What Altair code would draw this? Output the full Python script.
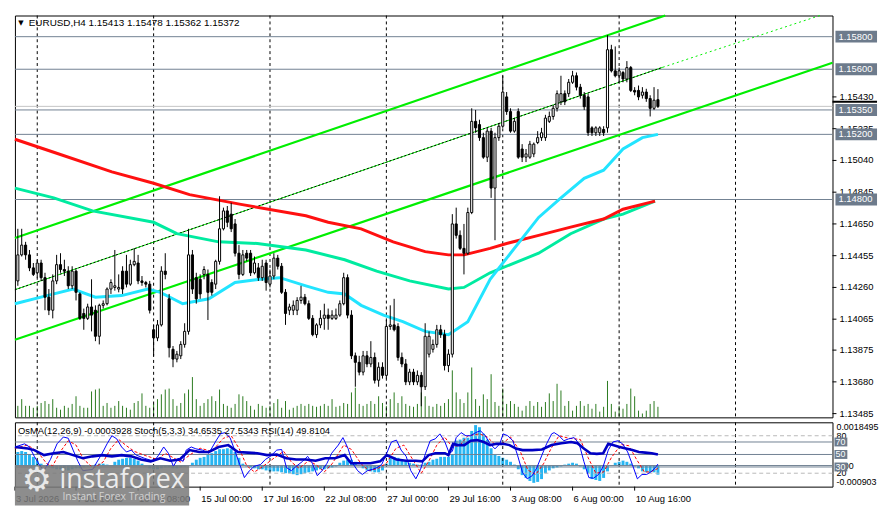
import altair as alt
import pandas as pd

FONT = "Liberation Sans"
W, H1, H2 = 826, 406, 65

TITLE = "EURUSD,H4  1.15413 1.15478 1.15362 1.15372"
IND_TITLE = "OsMA(12,26,9) -0.0003928  Stoch(5,3,3) 34.6535 27.5343  RSI(14) 49.8104"

# ---------------- candles (H4) ----------------
OPEN = [1.1430, 1.1446, 1.1452, 1.1446, 1.1438, 1.1435, 1.1441, 1.1432, 1.1420, 1.1412,
        1.1430, 1.1440, 1.1437, 1.1436, 1.1427, 1.1436, 1.1422, 1.1410, 1.1407, 1.1414,
        1.1412, 1.1396, 1.1415, 1.1416, 1.1425, 1.1426, 1.1425, 1.1436, 1.1436, 1.1428,
        1.1440, 1.1441, 1.1430, 1.1429, 1.1428, 1.1400, 1.1395, 1.1403, 1.1436, 1.1419,
        1.1388, 1.1382, 1.1384, 1.1391, 1.1399, 1.1446, 1.1432, 1.1431, 1.1434, 1.1434,
        1.1429, 1.1428, 1.1442, 1.1462, 1.1473, 1.1471, 1.1465, 1.1447, 1.1434, 1.1447,
        1.1447, 1.1435, 1.1438, 1.1432, 1.1441, 1.1428, 1.1433, 1.1444, 1.1439, 1.1423,
        1.1412, 1.1412, 1.1412, 1.1418, 1.1420, 1.1416, 1.1407, 1.1397, 1.1403, 1.1407,
        1.1409, 1.1407, 1.1407, 1.1409, 1.1416, 1.1432, 1.1409, 1.1384, 1.1380, 1.1374,
        1.1384, 1.1379, 1.1383, 1.1369, 1.1377, 1.1372, 1.1402, 1.1403, 1.1402, 1.1383,
        1.1379, 1.1368, 1.1374, 1.1368, 1.1372, 1.1365, 1.1385, 1.1388, 1.1391, 1.1400,
        1.1397, 1.1378, 1.1385, 1.1465, 1.1458, 1.1450, 1.1447, 1.1472, 1.1528, 1.1526,
        1.1518, 1.1506, 1.1522, 1.1487, 1.1518, 1.1525, 1.1543, 1.1534, 1.1522, 1.1534,
        1.1511, 1.1506, 1.1506, 1.1508, 1.1515, 1.1518, 1.1518, 1.1528, 1.1531, 1.1536,
        1.1540, 1.1545, 1.1545, 1.1552, 1.1556, 1.1549, 1.1544, 1.1543, 1.1524, 1.1521,
        1.1521, 1.1523, 1.1524, 1.1572, 1.1559, 1.1556, 1.1558, 1.1554, 1.1561, 1.1547,
        1.1547, 1.1544, 1.1546, 1.1542, 1.1536, 1.15413]
HIGH = [1.1462, 1.1462, 1.1454, 1.1449, 1.1441, 1.1443, 1.1443, 1.1435, 1.1425, 1.1434,
        1.1446, 1.1447, 1.1443, 1.1439, 1.1439, 1.1437, 1.1423, 1.1413, 1.1416, 1.1431,
        1.1415, 1.1416, 1.1418, 1.1426, 1.1431, 1.1449, 1.1434, 1.1439, 1.1446, 1.1443,
        1.1450, 1.1446, 1.1433, 1.1430, 1.1430, 1.1403, 1.1406, 1.1439, 1.1447, 1.1422,
        1.1390, 1.1387, 1.1393, 1.1404, 1.1462, 1.1449, 1.1435, 1.1434, 1.1439, 1.1437,
        1.1431, 1.1443, 1.1482, 1.1475, 1.1476, 1.1478, 1.1468, 1.1452, 1.1449, 1.1449,
        1.1449, 1.1445, 1.1441, 1.1443, 1.1443, 1.1437, 1.1447, 1.1446, 1.1441, 1.1425,
        1.1416, 1.1418, 1.1420, 1.1427, 1.1422, 1.1418, 1.1409, 1.1404, 1.1412, 1.1416,
        1.1413, 1.1412, 1.1413, 1.1418, 1.1435, 1.1434, 1.1412, 1.1386, 1.1384, 1.1387,
        1.1387, 1.1393, 1.1386, 1.1380, 1.1380, 1.1406, 1.1415, 1.1419, 1.1404, 1.1386,
        1.1382, 1.1376, 1.1376, 1.1375, 1.1374, 1.1404, 1.1399, 1.1394, 1.1403, 1.1403,
        1.1400, 1.1388, 1.1471, 1.1475, 1.1461, 1.1465, 1.1475, 1.1536, 1.1535, 1.1529,
        1.1521, 1.1524, 1.1524, 1.1521, 1.1527, 1.1556, 1.1546, 1.1536, 1.1530, 1.1536,
        1.1514, 1.1511, 1.1516, 1.1515, 1.1522, 1.1524, 1.1532, 1.1534, 1.1538, 1.1547,
        1.1556, 1.1547, 1.1554, 1.1559, 1.1558, 1.1551, 1.1546, 1.1545, 1.1525, 1.1525,
        1.1525, 1.1525, 1.1581, 1.1575, 1.1574, 1.1561, 1.1559, 1.1565, 1.1562, 1.1549,
        1.1550, 1.1549, 1.1548, 1.1544, 1.1549, 1.15478]
LOW = [1.1427, 1.1445, 1.1443, 1.1436, 1.1433, 1.1432, 1.1430, 1.1412, 1.1409, 1.1407,
       1.1428, 1.1435, 1.1433, 1.1425, 1.1425, 1.1418, 1.1406, 1.1400, 1.1406, 1.1399,
       1.1393, 1.1391, 1.1413, 1.1415, 1.1422, 1.1424, 1.1423, 1.1422, 1.1426, 1.1427,
       1.1439, 1.1428, 1.1427, 1.1426, 1.1410, 1.1384, 1.1393, 1.1402, 1.1431, 1.1383,
       1.1377, 1.1380, 1.1382, 1.1389, 1.1397, 1.1422, 1.1416, 1.1419, 1.1431, 1.1406,
       1.1421, 1.1425, 1.1440, 1.1461, 1.1463, 1.1460, 1.1445, 1.1431, 1.1433, 1.1442,
       1.1433, 1.1434, 1.1430, 1.1430, 1.1424, 1.1426, 1.1431, 1.1437, 1.1422, 1.1403,
       1.1409, 1.1409, 1.1409, 1.1416, 1.1415, 1.1406, 1.1396, 1.1395, 1.1401, 1.1400,
       1.1400, 1.1406, 1.1406, 1.1408, 1.1415, 1.1407, 1.1382, 1.1365, 1.1372, 1.1372,
       1.1377, 1.1377, 1.1367, 1.1365, 1.1370, 1.1370, 1.1400, 1.1399, 1.1381, 1.1377,
       1.1366, 1.1366, 1.1366, 1.1366, 1.1353, 1.1363, 1.1383, 1.1386, 1.1389, 1.1395,
       1.1375, 1.1374, 1.1383, 1.1456, 1.1449, 1.1434, 1.1446, 1.1471, 1.1521, 1.1516,
       1.1505, 1.1503, 1.1481, 1.1455, 1.1516, 1.1524, 1.1532, 1.1521, 1.1521, 1.1505,
       1.1503, 1.1503, 1.1505, 1.1506, 1.1514, 1.1516, 1.1516, 1.1527, 1.1529, 1.1534,
       1.1538, 1.1538, 1.1543, 1.1551, 1.1547, 1.1542, 1.1535, 1.1519, 1.1519, 1.1519,
       1.1519, 1.1519, 1.1521, 1.1558, 1.1555, 1.1552, 1.1552, 1.1552, 1.1546, 1.1544,
       1.1541, 1.1542, 1.1540, 1.1531, 1.1535, 1.15362]
CLOSE = [1.1446, 1.1452, 1.1446, 1.1438, 1.1434, 1.1441, 1.1432, 1.1420, 1.1412, 1.1430,
         1.1440, 1.1437, 1.1436, 1.1427, 1.1436, 1.1423, 1.1407, 1.1407, 1.1414, 1.1409,
         1.1396, 1.1415, 1.1416, 1.1425, 1.1429, 1.1427, 1.1426, 1.1425, 1.1428, 1.1440,
         1.1442, 1.1430, 1.1429, 1.1428, 1.1412, 1.1395, 1.1403, 1.1436, 1.1434, 1.1389,
         1.1382, 1.1385, 1.1391, 1.1399, 1.1446, 1.1425, 1.1419, 1.1422, 1.1437, 1.1423,
         1.1423, 1.1442, 1.1462, 1.1473, 1.1466, 1.1462, 1.1447, 1.1434, 1.1446, 1.1444,
         1.1435, 1.1441, 1.1432, 1.1439, 1.1429, 1.1433, 1.1444, 1.1439, 1.1423, 1.1410,
         1.1414, 1.1415, 1.1418, 1.1420, 1.1416, 1.1407, 1.1397, 1.1403, 1.1407, 1.1409,
         1.1407, 1.1409, 1.1409, 1.1416, 1.1432, 1.1409, 1.1384, 1.1380, 1.1374, 1.1384,
         1.1379, 1.1383, 1.1369, 1.1377, 1.1372, 1.1402, 1.1403, 1.1400, 1.1383, 1.1379,
         1.1368, 1.1374, 1.1368, 1.1372, 1.1365, 1.1396, 1.1396, 1.1391, 1.1400, 1.1397,
         1.1378, 1.1385, 1.1465, 1.1458, 1.1450, 1.1447, 1.1472, 1.1528, 1.1524, 1.1518,
         1.1506, 1.1522, 1.1487, 1.1518, 1.1525, 1.1546, 1.1534, 1.1522, 1.1528, 1.1506,
         1.1506, 1.1508, 1.1514, 1.1514, 1.1518, 1.1521, 1.1530, 1.1531, 1.1536, 1.1545,
         1.1545, 1.1540, 1.1552, 1.1556, 1.1549, 1.1544, 1.1537, 1.1521, 1.1521, 1.1524,
         1.1524, 1.1521, 1.1572, 1.1559, 1.1556, 1.1559, 1.1554, 1.1561, 1.1547, 1.1546,
         1.1543, 1.1546, 1.1542, 1.1536, 1.1541, 1.15372]
VOLUME = [1200, 1900, 1200, 1200, 1000, 1200, 1500, 1700, 1400, 1900,
          1000, 800, 1200, 1000, 1400, 2200, 1200, 1000, 1000, 2700,
          2900, 3000, 1200, 1500, 1000, 1200, 1700, 1200, 1000, 800,
          1500, 1700, 2500, 1200, 1000, 1400, 1900, 2400, 2900, 3000,
          1900, 1200, 1500, 2500, 2900, 4200, 1900, 1200, 1500, 1900,
          2200, 1700, 2900, 1400, 1200, 1000, 1400, 2400, 2200, 1700,
          1200, 800, 1400, 1200, 1000, 1200, 1500, 1900, 1000, 1700,
          800, 1000, 1200, 1400, 1200, 1400, 1200, 1100, 1200, 1400,
          1200, 1900, 1100, 1200, 1500, 1400, 2600, 3100, 1400, 1200,
          1400, 1700, 1400, 2200, 1500, 1200, 1900, 2600, 1500, 2200,
          1400, 1200, 1100, 1400, 2600, 2200, 1200, 1100, 1400, 1200,
          1500, 1900, 4900, 2600, 1900, 1500, 2600, 5200, 1900, 1200,
          2400, 1900, 4500, 1600, 1200, 3000, 1400, 1700, 1400, 1100,
          700, 1200, 1700, 1200, 1600, 1100, 1600, 2500, 1700, 3500,
          2800, 1200, 1700, 700, 1200, 1700, 1200, 1400, 900, 1400,
          600, 1100, 3800, 1400, 600, 1200, 900, 1400, 3000, 2200,
          700, 400, 700, 1400, 1700, 1100]
OSMA = [0.00058, 0.00062, 0.00058, 0.00049, 0.00037, 0.00021, 0.00008, -0.00004, -0.00008, -0.00012,
        -0.00016, -0.00016, -0.00021, -0.00021, -0.00016, -0.00012, -0.00012, -0.00008, -0.00004, 0.0,
        0.00004, 0.00008, 0.00008, 0.00004, 0.0, 0.00016, 0.00025, 0.00029, 0.00033, 0.00033,
        0.00029, 0.00021, 0.00008, -0.00004, -0.00012, -0.00016, -0.00016, -0.00012, -0.00008, -0.00008,
        -0.00012, -0.00012, -0.00008, -0.00004, 0.0, 0.00012, 0.00025, 0.00033, 0.00037, 0.00045,
        0.00053, 0.00062, 0.00070, 0.00070, 0.00074, 0.00070, 0.00058, 0.00033, 0.00008, -0.00004,
        -0.00008, -0.00012, -0.00016, -0.00016, -0.00021, -0.00025, -0.00025, -0.00025, -0.00029, -0.00033,
        -0.00033, -0.00037, -0.00041, -0.00037, -0.00033, -0.00029, -0.00025, -0.00021, -0.00016, -0.00016,
        -0.00012, -0.00008, -0.00004, 0.00012, 0.00021, 0.00025, 0.00025, 0.00016, 0.0, -0.00012,
        -0.00021, -0.00025, -0.00029, -0.00029, -0.00021, 0.00008, 0.00041, 0.00037, 0.00033, 0.00025,
        0.00021, 0.00012, 0.00008, 0.00004, 0.00004, 0.00012, 0.00016, 0.00025, 0.00029, 0.00037,
        0.00037, 0.00037, 0.00049, 0.00107, 0.00111, 0.00119, 0.00119, 0.00148, 0.00173, 0.00164,
        0.00136, 0.00111, 0.00074, 0.00045, 0.00041, 0.00033, 0.00025, 0.00016, 0.00004, -0.00016,
        -0.00041, -0.00053, -0.00066, -0.00074, -0.00070, -0.00058, -0.00033, -0.00021, -0.00012, -0.00008,
        -0.00004, 0.00004, 0.00008, 0.00012, 0.00008, -0.00004, -0.00016, -0.00033, -0.00058, -0.00062,
        -0.00066, -0.00053, -0.00025, 0.0, 0.00012, 0.00016, 0.00021, 0.00016, 0.00008, -0.00004,
        -0.00012, -0.00025, -0.00029, -0.00029, -0.00029, -0.00039]

assert len(OPEN) == len(HIGH) == len(LOW) == len(CLOSE) == len(VOLUME) == len(OSMA) == 166

# ---------------- moving averages (bar index, price) ----------------
MA_RED = [(-0.75, 1.1517), (9.25, 1.1509), (24.25, 1.1497), (35, 1.1490), (44.25, 1.1483),
          (57.5, 1.1477), (74.25, 1.1470), (80, 1.1466), (88.5, 1.1462), (96.75, 1.1454),
          (105, 1.1448), (111, 1.1446), (115, 1.1446), (121.75, 1.1450), (126, 1.1453),
          (134.25, 1.1458), (142.5, 1.1463), (151, 1.1468), (156, 1.1474), (164.25, 1.1479)]
MA_MINT = [(-0.75, 1.1487), (9.25, 1.1481), (19.25, 1.1473), (35, 1.1466), (41, 1.1459),
           (51.75, 1.1454), (61.75, 1.1453), (74.25, 1.1449), (84.25, 1.1443), (92.5, 1.1436),
           (101, 1.1430), (111, 1.1425), (115, 1.1426), (121.75, 1.1435), (134.25, 1.1447),
           (142.5, 1.1459), (151, 1.1468), (156, 1.1471), (164.25, 1.1479)]
MA_CYAN = [(-0.75, 1.1416), (7.5, 1.1421), (14.25, 1.1425), (20, 1.1420), (26.75, 1.1421),
           (33.5, 1.1425), (36.75, 1.1423), (42.5, 1.1416), (49.25, 1.1419), (56, 1.1429),
           (62.5, 1.1431), (67.5, 1.1432), (74.25, 1.1427), (80, 1.1423), (84.25, 1.1422),
           (88.5, 1.1415), (94.25, 1.1409), (99.25, 1.1405), (105, 1.1399), (111, 1.1397),
           (116, 1.1405), (121.75, 1.1431), (134.25, 1.1469), (140, 1.1481), (146, 1.1493),
           (151, 1.1498), (156, 1.1511), (161, 1.1518), (165, 1.1520)]

# ---------------- price channel (bar index, price) ----------------
CH_UPPER = [(-0.75, 1.14564), (166.9, 1.15930)]
CH_LOWER = [(-0.75, 1.13939), (210, 1.15640)]
CH_MID = [(-0.75, 1.14246), (166.25, 1.15612)]
CH_MID_EXT = [(166.25, 1.15612), (206.75, 1.15930)]

# ---------------- levels and axis ticks ----------------
LEVEL_P = [1.15800, 1.15600, 1.15350, 1.15200, 1.14800]
LEVEL_LABEL = ["1.15800", "1.15600", "1.15350", "1.15200", "1.14800"]
PRICE_TICKS = [1.15430, 1.15235, 1.15040, 1.14845, 1.14650, 1.14455,
               1.14260, 1.14065, 1.13875, 1.13680, 1.13485]
BID = 1.15372
ASK_MARK = 1.15400
GRID_I = [5, 35, 65, 95, 125, 155, 185]
X_LABEL_I = [-0.75, 15, 31, 47, 63, 79, 95, 111, 127, 143, 159]
X_LABELS = ["3 Jul 2026", "7 Jul 16:00", "10 Jul 08:00", "15 Jul 00:00", "17 Jul 16:00",
            "22 Jul 08:00", "27 Jul 00:00", "29 Jul 16:00", "3 Aug 08:00", "6 Aug 00:00",
            "10 Aug 16:00"]

# ---------------- oscillators (bar index, value) ----------------
STOCH_MAIN = [(-0.75, 62), (1.75, 67), (3, 62), (4.25, 47), (5.5, 34), (6.75, 24), (8.4, 42), (10.1, 67),
              (11.75, 78), (13, 76), (14.25, 57), (15.5, 39), (16.75, 24), (19.25, 26), (21.75, 52), (23, 67),
              (24.25, 80), (25.5, 75), (26.75, 62), (28, 54), (29.25, 57), (30.5, 49), (32.6, 44), (35.1, 39),
              (36.3, 49), (37.6, 62), (38.8, 52), (40.1, 31), (41.3, 44), (42.6, 39), (43.4, 57), (44.7, 62),
              (45.9, 59), (47.6, 57), (49.25, 52), (50.9, 70), (52.2, 83), (53.4, 85), (54.7, 77), (55.9, 57),
              (57.2, 34), (58.4, 13), (59.7, 24), (60.9, 31), (62.6, 34), (63.8, 42), (65.1, 47), (66.75, 57),
              (68, 58), (69.25, 29), (70.5, 24), (71.75, 31), (73.4, 39), (74.7, 47), (75.9, 36), (77.2, 16),
              (78.4, 24), (79.7, 36), (80.9, 52), (82.6, 65), (83.8, 77), (85.1, 60), (86.3, 36), (87.6, 24),
              (88.8, 18), (90.1, 24), (91.3, 26), (92.6, 29), (93.8, 34), (95.1, 52), (96.3, 70), (97.6, 73),
              (98.8, 57), (100.1, 47), (101.3, 24), (102.6, 11), (103.8, 26), (105.1, 52), (106.3, 72),
              (107.6, 75), (108.8, 83), (110.1, 70), (111.2, 52), (112, 55), (113, 77), (114.25, 85),
              (115.5, 80), (116.75, 80), (118, 85), (119.25, 88), (120.5, 80), (121.75, 67), (123, 59),
              (124.25, 67), (125.1, 83), (126.3, 80), (127.6, 72), (128.8, 49), (130.1, 21), (131.3, 11),
              (132.6, 16), (133.8, 29), (135.1, 49), (136.3, 67), (137.6, 83), (138.25, 85), (139.5, 80),
              (140.75, 72), (142, 75), (143.4, 77), (144.7, 67), (145.9, 39), (147.2, 13), (148.4, 12),
              (149.7, 18), (150.9, 31), (152.2, 57), (153.4, 70), (154.7, 72), (155.9, 67), (157.2, 54),
              (158.4, 34), (159.7, 11), (160.9, 18), (162.1, 18), (163.4, 23), (164.6, 31), (165, 34.65)]
STOCH_SIGNAL = [(-0.75, 60), (2.5, 65), (5, 55), (7.5, 35), (9, 32), (11, 55), (13, 72), (15, 65), (17, 42),
                (19.5, 28), (22, 38), (24, 60), (26, 74), (28, 64), (30, 55), (33, 48), (36, 42), (38, 52),
                (40, 45), (42, 38), (44.5, 50), (47, 60), (50, 55), (53, 76), (55, 80), (57, 60), (59, 32),
                (61, 22), (63, 30), (66, 44), (68.5, 55), (70.5, 38), (72.5, 28), (75, 40), (77, 33), (79, 22),
                (81, 35), (84, 65), (86, 58), (88.5, 35), (90.5, 24), (93, 28), (95, 36), (97.5, 60), (99.5, 65),
                (102, 40), (104, 20), (106, 40), (108, 65), (110, 78), (112, 62), (114, 65), (116, 80), (119, 83),
                (121, 78), (123, 66), (125, 68), (127, 78), (129.5, 55), (131.5, 25), (133.5, 18), (135.5, 35),
                (137.5, 60), (139.5, 80), (142, 76), (145, 74), (147, 45), (149, 20), (151, 22), (153, 45),
                (155.5, 66), (157.5, 64), (159.5, 42), (161.5, 22), (163, 22), (165, 27.53)]
RSI = [(-0.75, 62), (2.6, 59.5), (4.25, 57), (6.75, 49), (9.25, 52), (11.75, 54), (14.25, 49), (16.75, 44),
       (19.25, 47), (21.75, 49), (24.25, 47), (26.75, 49), (29.25, 47), (31.75, 42), (34.25, 39), (36.75, 44),
       (39.25, 40), (41.75, 42), (44.25, 57), (46.75, 54), (49.25, 54), (51.75, 62), (54.25, 65), (56.75, 54),
       (59.25, 53), (61.75, 52), (64.25, 49), (66.75, 50), (69.25, 44), (71.75, 42), (74.25, 42), (76.75, 40),
       (79.25, 44), (81.75, 44), (84.25, 49), (85.9, 36), (88.4, 36), (90.9, 36), (93.4, 39), (95.1, 49),
       (97.6, 42), (100.1, 40), (102.6, 40), (104.25, 39), (105.9, 49), (107.6, 52), (110.1, 52), (111, 49),
       (112.2, 67), (113.4, 65), (115.1, 65), (116.75, 72), (118.4, 73), (120.1, 70), (121.75, 65),
       (123.4, 67), (125.1, 67), (126.75, 65), (128.4, 59.5), (130.1, 57), (132.6, 57), (135.1, 58),
       (137.6, 65), (140.1, 68), (142.6, 70), (144.25, 68), (145.9, 59.5), (147.6, 52), (149.25, 51),
       (150.9, 52), (152.2, 67), (153.4, 65), (155.1, 62), (156.75, 59.5), (158.4, 57), (160.1, 54),
       (161.75, 53), (163.4, 52), (165, 49.8)]
IND_DASHED = [80, 20]
IND_SOLID = [70, 50, 30]
OSMA_TOP, OSMA_BOTTOM = 0.0018495, -0.000903

# ---------------- colours ----------------
SLATE = "#718192"
BOXC = "#6d7b8c"
LIME = "#00ee00"
MINT = "#00eba0"
RED = "#ff1010"
CYAN = "#22e4ff"
VOLC = "#2b7a1f"
OSMAC = "#27b5f2"

# ---------------- scales ----------------
XMIN, XMAX = -0.75, 210
YMIN, YMAX = 1.13462, 1.15930
VOL_MAX = 41900
IMIN, IMAX = -1.5, 101.5
XS = alt.Scale(domain=[XMIN, XMAX], nice=False, zero=False)
YS = alt.Scale(domain=[YMIN, YMAX], nice=False, zero=False)
IS = alt.Scale(domain=[IMIN, IMAX], nice=False, zero=False)
VOL_EXPR = f"{YMIN} + datum.vol * {(YMAX - YMIN) / VOL_MAX:.10f}"
OSMA_K = (IMAX - IMIN) / (OSMA_TOP - OSMA_BOTTOM)
XPX = (XMAX - XMIN) / W          # bar units per pixel
YPX = (YMAX - YMIN) / H1         # price per pixel
IPX = (IMAX - IMIN) / H2         # oscillator units per pixel


def osma_expr(field):
    return f"{IMIN} + ({field} + {-OSMA_BOTTOM:.7f}) * {OSMA_K:.4f}"


def px(f):
    return alt.X(f, type="quantitative", scale=XS, axis=None)


def py(f, scale=YS):
    return alt.Y(f, type="quantitative", scale=scale, axis=None)


def pairs(lst, name):
    return pd.DataFrame({"i": [a for a, b in lst], "v": [b for a, b in lst], "s": name})


bars = pd.DataFrame({"i": list(range(len(OPEN))), "open": OPEN, "high": HIGH, "low": LOW,
                     "close": CLOSE, "vol": VOLUME, "osma": OSMA})
levels = pd.DataFrame({"p": LEVEL_P, "label": LEVEL_LABEL})
ticks_df = pd.DataFrame({"p": PRICE_TICKS, "label": [f"{t:.5f}" for t in PRICE_TICKS]})

# ================= main price panel =================
vol = alt.Chart(bars).transform_calculate(vb=f"{YMIN}", vt=VOL_EXPR).mark_rule(
    color=VOLC, strokeWidth=1).encode(x=px("i"), y=py("vb"), y2="vt:Q")
grid = alt.Chart(pd.DataFrame({"i": GRID_I})).mark_rule(
    color="black", strokeDash=[3, 3], strokeWidth=1).encode(x=px("i"))
lev = alt.Chart(levels).mark_rule(color=SLATE, strokeWidth=1).encode(y=py("p"))
bid = alt.Chart(pd.DataFrame({"p": [BID]})).mark_rule(color="#c4c4c4", strokeWidth=1).encode(y=py("p"))

chan = pd.concat([pairs(CH_UPPER, "u"), pairs(CH_LOWER, "l")], ignore_index=True)
chan_l = alt.Chart(chan).mark_line(color=LIME, strokeWidth=2.2).encode(
    x=px("i"), y=py("v"), detail="s:N")
mid_g = alt.Chart(pairs(CH_MID, "m")).mark_line(color=LIME, strokeWidth=1).encode(x=px("i"), y=py("v"))
mid_k = alt.Chart(pairs(CH_MID, "m")).mark_line(color="black", strokeWidth=1, strokeDash=[2, 2]).encode(
    x=px("i"), y=py("v"))
mid_e = alt.Chart(pairs(CH_MID_EXT, "e")).mark_line(color=LIME, strokeWidth=1, strokeDash=[2, 3]).encode(
    x=px("i"), y=py("v"))

ma_mint = alt.Chart(pairs(MA_MINT, "mint")).mark_line(color=MINT, strokeWidth=3).encode(x=px("i"), y=py("v"))
ma_red = alt.Chart(pairs(MA_RED, "red")).mark_line(color=RED, strokeWidth=3).encode(x=px("i"), y=py("v"))
ma_cyan = alt.Chart(pairs(MA_CYAN, "cyan")).mark_line(color=CYAN, strokeWidth=3).encode(x=px("i"), y=py("v"))

wicks = alt.Chart(bars).mark_rule(color="black", strokeWidth=1).encode(
    x=px("i"), y=py("low"), y2="high:Q")
bodies = alt.Chart(bars).transform_calculate(
    x0="datum.i - 0.27", x1="datum.i + 0.27").mark_rect(stroke="black", strokeWidth=1).encode(
    x=px("x0"), x2="x1:Q", y=py("open"), y2="close:Q",
    fill=alt.condition(alt.datum.close >= alt.datum.open, alt.value("white"), alt.value("black")))

# right-hand price scale: ticks, labels, boxed level labels
pticks = alt.Chart(ticks_df).transform_calculate(
    a=f"{XMAX}", b=f"{XMAX + 4 * XPX:.4f}").mark_rule(color="black", strokeWidth=1).encode(
    x=px("a"), x2="b:Q", y=py("p"))
plabels = alt.Chart(ticks_df).mark_text(align="left", baseline="middle", color="black", font=FONT,
                                        fontSize=9.5).encode(x=alt.value(W + 7), y=py("p"), text="label:N")
boxes = alt.Chart(levels).transform_calculate(
    a=f"{XMAX + 3 * XPX:.4f}", b=f"{XMAX + 45 * XPX:.4f}",
    lo=f"datum.p - {6 * YPX:.6f}", hi=f"datum.p + {6 * YPX:.6f}").mark_rect(color=BOXC).encode(
    x=px("a"), x2="b:Q", y=py("lo"), y2="hi:Q")
box_t = alt.Chart(levels).mark_text(align="left", baseline="middle", color="white", font=FONT,
                                    fontSize=9.5).encode(x=alt.value(W + 6), y=py("p"), text="label:N")
askm = alt.Chart(pd.DataFrame({"p": [ASK_MARK]})).transform_calculate(
    a=f"{XMAX}", b=f"{XMAX + 45 * XPX:.4f}").mark_rule(color="black", strokeWidth=2).encode(
    x=px("a"), x2="b:Q", y=py("p"))

title = alt.Chart(pd.DataFrame({"t": [TITLE]})).mark_text(
    align="left", baseline="middle", font=FONT, fontSize=10, color="black").encode(
    x=alt.value(14), y=alt.value(8), text="t:N")
tri = alt.Chart(pd.DataFrame({"t": ["\u25bc"]})).mark_text(
    align="center", baseline="middle", font="DejaVu Sans", fontSize=7, color="black").encode(
    x=alt.value(6), y=alt.value(8), text="t:N")

top = alt.layer(vol, grid, lev, bid, chan_l, mid_g, mid_k, mid_e, ma_mint, ma_red, ma_cyan,
                wicks, bodies, pticks, plabels, boxes, box_t, askm, tri, title).properties(
    width=W, height=H1)

# ================= indicator panel =================
osma = alt.Chart(bars).transform_calculate(
    x0="datum.i - 0.38", x1="datum.i + 0.38", z=osma_expr("0"), o=osma_expr("datum.osma")).mark_rect(
    color=OSMAC).encode(x=px("x0"), x2="x1:Q", y=py("z", IS), y2="o:Q")
grid2 = alt.Chart(pd.DataFrame({"i": GRID_I})).mark_rule(
    color="black", strokeDash=[3, 3], strokeWidth=1).encode(x=px("i"))
lvl_d = alt.Chart(pd.DataFrame({"v": IND_DASHED})).mark_rule(
    color="#b8b8b8", strokeDash=[4, 3], strokeWidth=1).encode(y=py("v", IS))
lvl_s = alt.Chart(pd.DataFrame({"v": IND_SOLID})).mark_rule(color=SLATE, strokeWidth=1).encode(
    y=py("v", IS))
zero = alt.Chart(pd.DataFrame({"v": [0.0]})).transform_calculate(z=osma_expr("datum.v")).mark_rule(
    color=SLATE, strokeWidth=1).encode(y=py("z", IS))
sig = alt.Chart(pairs(STOCH_SIGNAL, "sig")).mark_line(color="#ff0000", strokeWidth=1,
                                                      strokeDash=[3, 2]).encode(x=px("i"), y=py("v", IS))
stm = alt.Chart(pairs(STOCH_MAIN, "main")).mark_line(color="#0000ff", strokeWidth=1).encode(
    x=px("i"), y=py("v", IS))
rsi = alt.Chart(pairs(RSI, "rsi")).mark_line(color="#0000c4", strokeWidth=2.6).encode(
    x=px("i"), y=py("v", IS))

osma_lab = pd.DataFrame({"v": [OSMA_TOP, OSMA_BOTTOM, 0.0], "t": ["0.0018495", "-0.000903", "0.00"],
                         "d": [5.0, -5.0, 0.0]})
t_osma = alt.Chart(osma_lab).transform_calculate(
    z=osma_expr("datum.v") + f" - datum.d * {IPX:.4f}").mark_text(
    align="left", baseline="middle", font=FONT, fontSize=9, color="black").encode(
    x=alt.value(W + 4), y=py("z", IS), text="t:N")
t_dash = alt.Chart(pd.DataFrame({"v": IND_DASHED, "t": ["80", "20"]})).mark_text(
    align="left", baseline="middle", font=FONT, fontSize=9, color="black").encode(
    x=alt.value(W + 4), y=py("v", IS), text="t:N")
ibox = alt.Chart(pd.DataFrame({"v": IND_SOLID})).transform_calculate(
    a=f"{XMAX + 2 * XPX:.4f}", b=f"{XMAX + 15 * XPX:.4f}",
    lo=f"datum.v - {4.5 * IPX:.4f}", hi=f"datum.v + {4.5 * IPX:.4f}").mark_rect(color=BOXC).encode(
    x=px("a"), x2="b:Q", y=py("lo", IS), y2="hi:Q")
ibox_t = alt.Chart(pd.DataFrame({"v": IND_SOLID, "t": ["70", "50", "30"]})).mark_text(
    align="left", baseline="middle", font=FONT, fontSize=9, color="white").encode(
    x=alt.value(W + 3), y=py("v", IS), text="t:N")
ind_title = alt.Chart(pd.DataFrame({"t": [IND_TITLE]})).mark_text(
    align="left", baseline="middle", font=FONT, fontSize=9.5, color="black").encode(
    x=alt.value(3), y=alt.value(9), text="t:N")

# time scale under the indicator panel
xlab = pd.DataFrame({"i": X_LABEL_I, "t": X_LABELS})
xticks = alt.Chart(xlab).transform_calculate(
    a=f"{IMIN}", b=f"{IMIN - 4 * IPX:.4f}").mark_rule(color="black", strokeWidth=1).encode(
    x=px("i"), y=py("a", IS), y2="b:Q")
xtext = alt.Chart(xlab).mark_text(align="left", baseline="middle", font=FONT, fontSize=9.5,
                                  color="black", dx=1).encode(
    x=px("i"), y=alt.value(H2 + 13), text="t:N")

# instaforex watermark
logo_box = alt.Chart(pd.DataFrame({"k": [0]})).transform_calculate(
    a=f"{XMIN}", b=f"{XMIN + 176 * XPX:.4f}", lo=f"{IMAX - 44 * IPX:.4f}",
    hi=f"{IMAX - 84 * IPX:.4f}").mark_rect(color="#7a7a7a", opacity=0.86).encode(
    x=px("a"), x2="b:Q", y=py("lo", IS), y2="hi:Q")
logo_icon = alt.Chart(pd.DataFrame({"t": ["\u2699"]})).mark_text(
    font="DejaVu Sans", fontSize=34, color="#e8e8e8", align="center", baseline="middle").encode(
    x=alt.value(22), y=alt.value(59), text="t:N")
logo_t = alt.Chart(pd.DataFrame({"t": ["instaforex"]})).mark_text(
    font="Open Sans", fontSize=27, color="#ececec", align="left", baseline="middle").encode(
    x=alt.value(45), y=alt.value(58), text="t:N")
logo_s = alt.Chart(pd.DataFrame({"t": ["Instant Forex Trading"]})).mark_text(
    font="Open Sans", fontSize=10.5, color="#d2d2d2", align="left", baseline="middle").encode(
    x=alt.value(48), y=alt.value(75), text="t:N")

bottom = alt.layer(osma, grid2, lvl_d, lvl_s, zero, sig, stm, rsi, t_osma, t_dash,
                   ibox, ibox_t, ind_title, xticks, xtext, logo_box, logo_icon, logo_t,
                   logo_s).properties(width=W, height=H2)

chart = alt.vconcat(top, bottom, spacing=2).properties(
    padding={"left": 0, "top": 0, "right": 0, "bottom": 0}).configure_view(
    stroke="black", strokeWidth=1)

chart.save("out.html", embed_options={"renderer": "svg", "actions": False})
